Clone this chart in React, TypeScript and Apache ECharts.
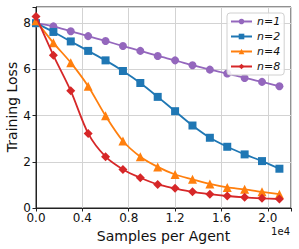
import React, { useEffect, useRef } from "react";
import * as echarts from "echarts";

const samples = [0, 0.15, 0.3, 0.45, 0.6, 0.75, 0.9, 1.05, 1.2, 1.35, 1.5, 1.65, 1.8, 1.95, 2.1];
const n1 = [8.0, 7.86, 7.65, 7.44, 7.23, 7.01, 6.8, 6.58, 6.39, 6.18, 5.99, 5.82, 5.63, 5.46, 5.27];
const n2 = [8.0, 7.62, 7.21, 6.8, 6.39, 5.93, 5.41, 4.81, 4.19, 3.57, 3.04, 2.65, 2.32, 2.03, 1.7];
const n4 = [8.1, 7.15, 6.29, 5.27, 3.99, 2.9, 2.22, 1.78, 1.45, 1.24, 1.04, 0.89, 0.81, 0.7, 0.6];
const n8 = [8.29, 6.61, 5.07, 3.23, 2.22, 1.67, 1.31, 1.02, 0.85, 0.7, 0.6, 0.52, 0.46, 0.42, 0.39];
const seriesNames = ["n=1", "n=2", "n=4", "n=8"];
const seriesValues = [n1, n2, n4, n8];
const colors = ["#9467bd", "#1f77b4", "#ff7f0e", "#d62728"];
const symbols = ["circle", "rect", "triangle", "diamond"];
const symbolSizes = [8, 8, 9, 9];

const FONT = "DejaVu Sans";

export default function App() {
  const ref = useRef<HTMLDivElement>(null);
  useEffect(() => {
    if (!ref.current) return;
    const chart = echarts.init(ref.current, undefined, { renderer: "svg" });
    chart.setOption({
      animation: false,
      backgroundColor: "#fff",
      textStyle: { fontFamily: FONT },
      grid: {
        left: 36,
        right: 8,
        top: 7,
        bottom: 41,
        show: true,
        borderColor: "#222",
        borderWidth: 1,
        backgroundColor: "transparent",
        containLabel: false,
        outerBoundsMode: "none",
      },
      legend: {
        orient: "vertical",
        left: 227,
        top: 13,
        padding: [2, 4, 2, 3],
        itemWidth: 21,
        itemHeight: 7,
        itemGap: 2,
        backgroundColor: "rgba(255,255,255,0.85)",
        borderColor: "#d0d0d0",
        borderWidth: 1,
        borderRadius: 3,
        textStyle: { fontFamily: FONT, fontSize: 11, fontStyle: "italic", color: "#111", lineHeight: 13 },
        data: seriesNames,
      },
      xAxis: {
        type: "value",
        min: 0,
        max: 2.2,
        interval: 0.4,
        name: "Samples per Agent",
        nameLocation: "middle",
        nameGap: 19,
        nameTextStyle: { fontFamily: FONT, fontSize: 14, color: "#111" },
        axisLine: { show: true, onZero: false, lineStyle: { color: "#222" } },
        axisTick: { show: true, length: 3.5, lineStyle: { color: "#222" } },
        axisLabel: {
          fontFamily: FONT,
          fontSize: 12,
          color: "#111",
          margin: 4,
          formatter: (v: number) => (Math.abs(v / 0.4 - Math.round(v / 0.4)) < 1e-6 ? v.toFixed(1) : ""),
        },
        splitLine: { show: true, lineStyle: { color: "#d3d3d3", width: 1 } },
      },
      yAxis: {
        type: "value",
        min: 0,
        max: 8.7,
        interval: 2,
        axisLine: { show: true, lineStyle: { color: "#222" } },
        axisTick: { show: true, length: 3.5, lineStyle: { color: "#222" } },
        axisLabel: {
          fontFamily: FONT,
          fontSize: 12,
          color: "#111",
          margin: 5,
          formatter: (v: number) => (Math.abs(v / 2 - Math.round(v / 2)) < 1e-6 ? String(Math.round(v)) : ""),
        },
        splitLine: { show: true, lineStyle: { color: "#d3d3d3", width: 1 } },
      },
      graphic: [
        {
          type: "text",
          right: 9,
          top: 226,
          style: { text: "1e4", fontFamily: FONT, fontSize: 10, fill: "#111" },
        },
        {
          type: "text",
          x: 12,
          y: 107,
          rotation: Math.PI / 2,
          style: {
            text: "Training Loss",
            fontFamily: FONT,
            fontSize: 14,
            fill: "#111",
            align: "center",
            verticalAlign: "middle",
          },
        },
      ],
      series: seriesNames.map((name, i) => ({
        name,
        type: "line",
        data: samples.map((x, j) => [x, seriesValues[i][j]]),
        smooth: 0.3,
        symbol: symbols[i],
        symbolSize: symbolSizes[i],
        showAllSymbol: true,
        lineStyle: { color: colors[i], width: 1.8 },
        itemStyle: { color: colors[i] },
        emphasis: { disabled: true },
        z: 2 + i,
      })),
    });
    return () => chart.dispose();
  }, []);
  return <div ref={ref} style={{ position: "fixed", left: 0, top: 0, width: 299, height: 249 }} />;
}
